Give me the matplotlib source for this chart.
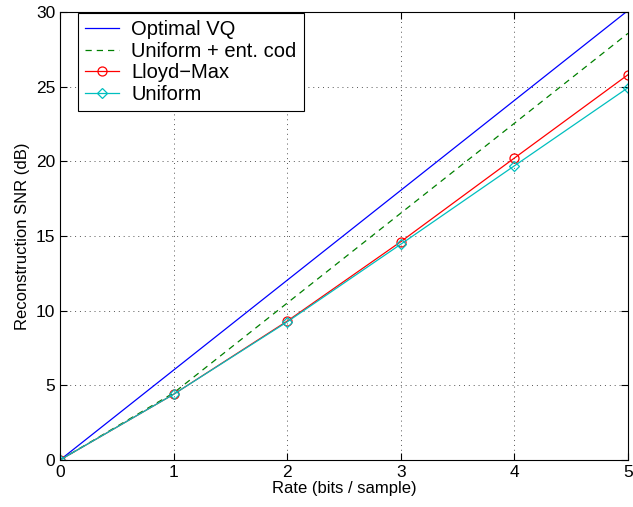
import matplotlib
matplotlib.use("Agg")
import matplotlib.pyplot as plt

plt.rcParams["font.family"] = ["Liberation Sans", "DejaVu Sans"]

# rate in bits / sample
rate = [0, 1, 2, 3, 4, 5]
snr_optimal_vq = [0, 6.02, 12.04, 18.06, 24.08, 30.10]
snr_uniform_ec = [0, 4.49, 10.51, 16.53, 22.55, 28.57]
snr_lloyd_max = [0, 4.40, 9.30, 14.62, 20.22, 25.80]
snr_uniform = [0, 4.40, 9.25, 14.45, 19.70, 24.93]

fig = plt.figure(figsize=(6.33, 5.07), dpi=100)
ax = fig.add_axes([60 / 633, 47 / 507, 568 / 633, 448 / 507])

ax.plot(rate, snr_optimal_vq, color="#0000ff", lw=0.9, label="Optimal VQ")
ax.plot(rate, snr_uniform_ec, color="#008000", lw=0.9, ls=(0, (5, 4)),
        label="Uniform + ent. cod")
ax.plot(rate, snr_lloyd_max, color="#ff0000", lw=0.9, marker="o", ms=6.5,
        mfc="none", mew=0.9, label="Lloyd\u2212Max")
ax.plot(rate, snr_uniform, color="#00bfbf", lw=0.9, marker="D", ms=5.5,
        mfc="none", mew=0.9, label="Uniform")

ax.set_xlim(0, 5)
ax.set_ylim(0, 30)
ax.set_xticks(range(0, 6))
ax.set_yticks(range(0, 31, 5))
ax.tick_params(direction="in", top=True, right=True, labelsize=12.5, length=5)
ax.grid(True, ls=(0, (1, 4)), color="#555555", lw=0.7)
for s in ax.spines.values():
    s.set_linewidth(0.8)

ax.set_xlabel("Rate (bits / sample)", fontsize=12, labelpad=1)
ax.set_ylabel("Reconstruction SNR (dB)", fontsize=12, labelpad=4)

leg = ax.legend(loc="upper left", fontsize=14.5, handlelength=1.7,
                borderaxespad=0, bbox_to_anchor=(18 / 568, 1 - 1 / 448),
                fancybox=False, framealpha=1, edgecolor="black",
                borderpad=0.35, labelspacing=0.13, handletextpad=0.6)
leg.get_frame().set_linewidth(0.8)

fig.savefig("out.png", dpi=100)
